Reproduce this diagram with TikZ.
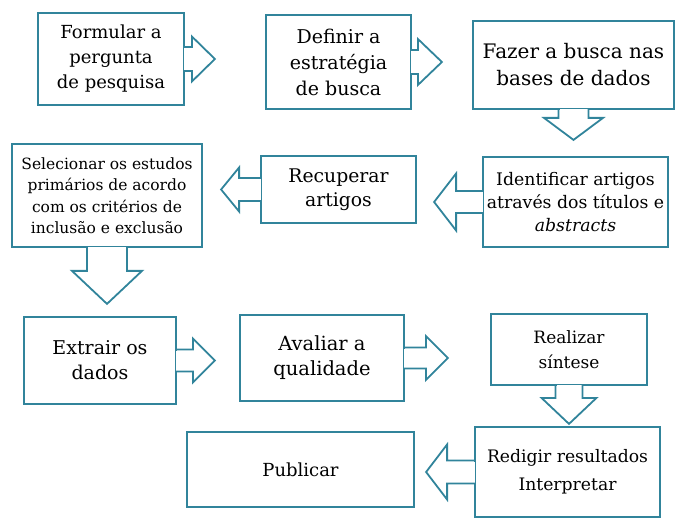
\documentclass[tikz,border=0pt]{standalone}
\usepackage{fontspec}
\setmainfont{DejaVu Serif}
\definecolor{boxline}{HTML}{31849B}
\tikzset{
  stepbox/.style={draw=boxline, line width=1.8pt, align=center, inner sep=0pt,
    font=\fontsize{18}{25}\selectfont},
  flow/.style={draw=boxline, line width=1.8pt, line join=miter}
}
% block arrow on a box side: anchor, angle, shaft, head, shaft half, head half
\newcommand{\blockarrow}[6]{%
  \begin{scope}[shift={(#1)}, rotate=#2]
    \fill[white] (-1,#5-1) rectangle (1,-#5+1);
    \draw[flow] (-0.9,#5) -- (#3,#5) -- (#3,#6) -- (#3+#4,0)
      -- (#3,-#6) -- (#3,-#5) -- (-0.9,-#5);
  \end{scope}}
\begin{document}
\begin{tikzpicture}[x=1pt, y=-1pt]
 \useasboundingbox (0,0) rectangle (696,529);
 % first row
 \node[stepbox, minimum width=146pt, minimum height=92pt] (formular) at (111,59)
   {Formular a\\pergunta\\de pesquisa};
 \node[stepbox, minimum width=145pt, minimum height=94pt,
   font=\fontsize{19}{26}\selectfont] (definir) at (338.5,62)
   {Definir a\\estratégia\\de busca};
 \node[stepbox, minimum width=201pt, minimum height=88pt,
   font=\fontsize{20}{27}\selectfont] (fazer) at (573.5,65)
   {Fazer a busca nas\\bases de dados};
 % second row
 \node[stepbox, minimum width=185pt, minimum height=90pt,
   font=\fontsize{17.3}{23}\selectfont] (identificar) at (575.5,202)
   {Identificar artigos\\através dos títulos e\\\textit{abstracts}};
 \node[stepbox, minimum width=155pt, minimum height=67pt,
   font=\fontsize{18.8}{24}\selectfont] (recuperar) at (338.5,189.5)
   {Recuperar\\artigos};
 \node[stepbox, minimum width=190pt, minimum height=103pt,
   font=\fontsize{15.5}{21.5}\selectfont] (selecionar) at (107,195.5)
   {Selecionar os estudos\\primários de acordo\\com os critérios de\\inclusão e exclusão};
 % third row
 \node[stepbox, minimum width=152pt, minimum height=87pt,
   font=\fontsize{19}{25}\selectfont] (extrair) at (100,360.5)
   {Extrair os\\dados};
 \node[stepbox, minimum width=164pt, minimum height=86pt,
   font=\fontsize{19.5}{25}\selectfont] (avaliar) at (322,358)
   {Avaliar a\\qualidade};
 \node[stepbox, minimum width=156pt, minimum height=71pt,
   font=\fontsize{17}{25}\selectfont] (realizar) at (569,349.5)
   {Realizar\\síntese};
 % last row
 \node[stepbox, minimum width=185pt, minimum height=90pt,
   font=\fontsize{17.2}{28}\selectfont] (redigir) at (567.5,472)
   {Redigir resultados\\Interpretar};
 \node[stepbox, minimum width=227pt, minimum height=75pt] (publicar) at (300.5,469.5)
   {Publicar};
 % arrows
 \blockarrow{formular.east}{0}{7}{23}{12}{22.5}
 \blockarrow{definir.east}{0}{6}{24}{12}{23}
 \blockarrow{fazer.south}{-90}{8}{22}{15}{29.5}
 \blockarrow{identificar.west}{180}{26}{22}{11}{28.5}
 \blockarrow{recuperar.west}{180}{21}{18}{11.5}{22}
 \blockarrow{selecionar.south}{-90}{23}{33}{20}{35}
 \blockarrow{extrair.east}{0}{16}{22}{11}{22}
 \blockarrow{avaliar.east}{0}{21}{22}{10.5}{22}
 \blockarrow{realizar.south}{-90}{12}{26}{13.5}{27.5}
 \blockarrow{redigir.west}{180}{27}{21}{11.5}{27.5}
\end{tikzpicture}
\end{document}
